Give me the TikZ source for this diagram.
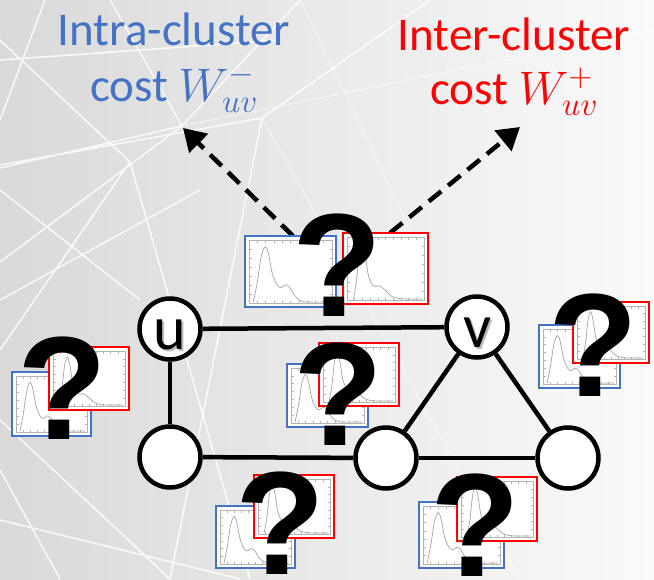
\documentclass[tikz,border=0pt]{standalone}
\usepackage{fix-cm}
\usepackage{fontspec}
\setmainfont{Carlito}
\newfontfamily\qmarkfont{Liberation Sans}
\usetikzlibrary{arrows.meta}
\definecolor{myblue}{HTML}{4472C4}
\definecolor{myred}{HTML}{FF0000}
\definecolor{plotgray}{HTML}{A4A4A4}
\definecolor{framegray}{HTML}{B4B4B4}
\definecolor{bgL}{HTML}{D9D9D9}
\definecolor{bgM}{HTML}{EBEBEB}
\definecolor{bgR}{HTML}{FAFAFA}

\tikzset{
  vertex/.style={circle, draw=black, line width=4.5pt, fill=white, minimum size=61pt, inner sep=0pt},
  edge/.style={line width=4.5pt, black},
  vlabel/.style={font=\fontsize{62}{62}\selectfont, anchor=base, inner sep=0pt},
  toptext/.style={font=\fontsize{47}{52}\selectfont, anchor=base, inner sep=0pt},
  costarrow/.style={line width=4.5pt, dash pattern=on 16pt off 9pt, -{Triangle[length=22pt,width=26pt]}},
  qmark/.style={font=\qmarkfont\bfseries\fontsize{147}{147}\selectfont, anchor=base, inner sep=0pt},
  netline/.style={white, line width=1.6pt, opacity=0.8},
}

\newcommand{\bluecurve}{\draw[plotgray, line width=0.7pt] plot[smooth, tension=0.55] coordinates {(0.03,0) (0.08,0.35) (0.13,0.8) (0.18,0.97) (0.22,0.85) (0.27,0.5) (0.33,0.3) (0.38,0.25) (0.43,0.3) (0.48,0.27) (0.55,0.12) (0.62,0.03) (0.72,0.0) (1,0)};}
\newcommand{\redcurve}{\draw[plotgray, line width=0.7pt] plot[smooth, tension=0.55] coordinates {(0.06,0) (0.1,0.3) (0.14,0.8) (0.18,0.98) (0.22,0.8) (0.26,0.45) (0.31,0.27) (0.36,0.22) (0.42,0.23) (0.5,0.15) (0.58,0.05) (0.68,0.01) (0.8,0) (1,0)};}

\newcommand{\plotbox}[6]{%
 \begin{scope}[shift={(#1,#2)}]
  \fill[white] (0,0) rectangle (#3,#4);
  \draw[framegray, line width=0.7pt] (4,4) rectangle (#3-4,#4-4);
  \foreach \i in {1,...,9} {
    \draw[framegray, line width=0.5pt] ({4+\i*(#3-8)/10},#4-4) -- ++(0,-2.5);
    \draw[framegray, line width=0.5pt] ({4+\i*(#3-8)/10},4) -- ++(0,2.5);
  }
  \foreach \i in {1,...,6} {
    \draw[framegray, line width=0.5pt] (4,{4+\i*(#4-8)/7}) -- ++(2.5,0);
    \draw[framegray, line width=0.5pt] (#3-4,{4+\i*(#4-8)/7}) -- ++(-2.5,0);
  }
  \pgfmathsetmacro\pbxs{#3-12}
  \pgfmathsetmacro\pbys{-(#4-14)}
  \begin{scope}[shift={(6,#4-5)}, xscale=\pbxs, yscale=\pbys]
    #6
  \end{scope}
  \draw[#5, line width=2pt] (0,0) rectangle (#3,#4);
 \end{scope}}

\begin{document}
\begin{tikzpicture}[x=1pt, y=-1pt]
\useasboundingbox (0,0) rectangle (654,579);
\shade[left color=bgL, middle color=bgM, right color=bgR] (0,0) rectangle (654,579);

% background network
\draw[netline]
  (0,165) -- (262,118)
  (0,168) -- (182,126)
  (182,126) -- (110,0)
  (182,126) -- (300,0)
  (182,126) -- (0,262)
  (130,162) -- (0,40)
  (130,162) -- (0,350)
  (130,162) -- (250,579)
  (262,118) -- (170,579)
  (0,190) -- (140,300)
  (0,300) -- (200,190)
  (0,420) -- (170,579)
  (0,520) -- (240,579)
  (60,579) -- (0,470)
  (0,60) -- (280,40)
  (45,0) -- (0,120)
  (262,118) -- (430,0);
\draw[netline, opacity=0.4]
  (182,126) -- (654,30)
  (262,118) -- (520,579)
  (300,0) -- (420,250);

% top texts
\node[toptext, text=myblue] (intra1) at (174,45) {Intra-cluster};
\node[toptext, text=myblue] (intra2) at (174,101) {cost $W^{-}_{uv}$};
\node[toptext, text=myred] (inter1) at (514,50) {Inter-cluster};
\node[toptext, text=myred] (inter2) at (514,104) {cost $W^{+}_{uv}$};

% arrows
\coordinate (a1s) at (293,236);
\coordinate (a1e) at (183,128);
\coordinate (a2s) at (390,233);
\coordinate (a2e) at (520,127);
\draw[costarrow] (a1s) -- (a1e);
\draw[costarrow] (a2s) -- (a2e);

% graph
\node[vertex] (u) at (170,329) {};
\node[vertex] (v) at (477,327) {};
\node[vertex] (bl) at (170,457) {};
\node[vertex] (bm) at (386,458) {};
\node[vertex] (br) at (568,458) {};
\draw[edge] (u) -- (v);
\draw[edge] (u) -- (bl);
\draw[edge] (bl) -- (bm);
\draw[edge] (bm) -- (br);
\draw[edge] (v) -- (bm);
\draw[edge] (v) -- (br);
\node[vlabel, text=black!45, opacity=0.6] at ([xshift=2pt,yshift=-22pt]u.center) {u};
\node[vlabel] (ulabel) at ([yshift=-20pt]u.center) {u};
\node[vlabel, text=black!45, opacity=0.6] at ([xshift=2pt,yshift=-22pt]v.center) {v};
\node[vlabel] (vlabel) at ([yshift=-20pt]v.center) {v};

% question groups
\plotbox{245}{236}{91}{71}{myblue}{\bluecurve}
\plotbox{343}{233}{85}{71}{myred}{\redcurve}
\node[qmark] (q1) at (337,316) {?};

\plotbox{12}{372}{79}{64}{myblue}{\bluecurve}
\plotbox{49}{347}{80}{63}{myred}{\redcurve}
\node[qmark] (q2) at (62,439) {?};

\plotbox{287}{364}{81}{63}{myblue}{\bluecurve}
\plotbox{319}{343}{80}{63}{myred}{\redcurve}
\node[qmark] (q3) at (338,445) {?};

\plotbox{539}{325}{81}{63}{myblue}{\bluecurve}
\plotbox{573}{302}{76}{61}{myred}{\redcurve}
\node[qmark] (q4) at (593,396) {?};

\plotbox{216}{506}{79}{62}{myblue}{\bluecurve}
\plotbox{254}{475}{80}{63}{myred}{\redcurve}
\node[qmark] (q5) at (280,574) {?};

\plotbox{419}{502}{85}{66}{myblue}{\bluecurve}
\plotbox{457}{477}{80}{64}{myred}{\redcurve}
\node[qmark] (q6) at (475,576) {?};
\end{tikzpicture}
\end{document}
